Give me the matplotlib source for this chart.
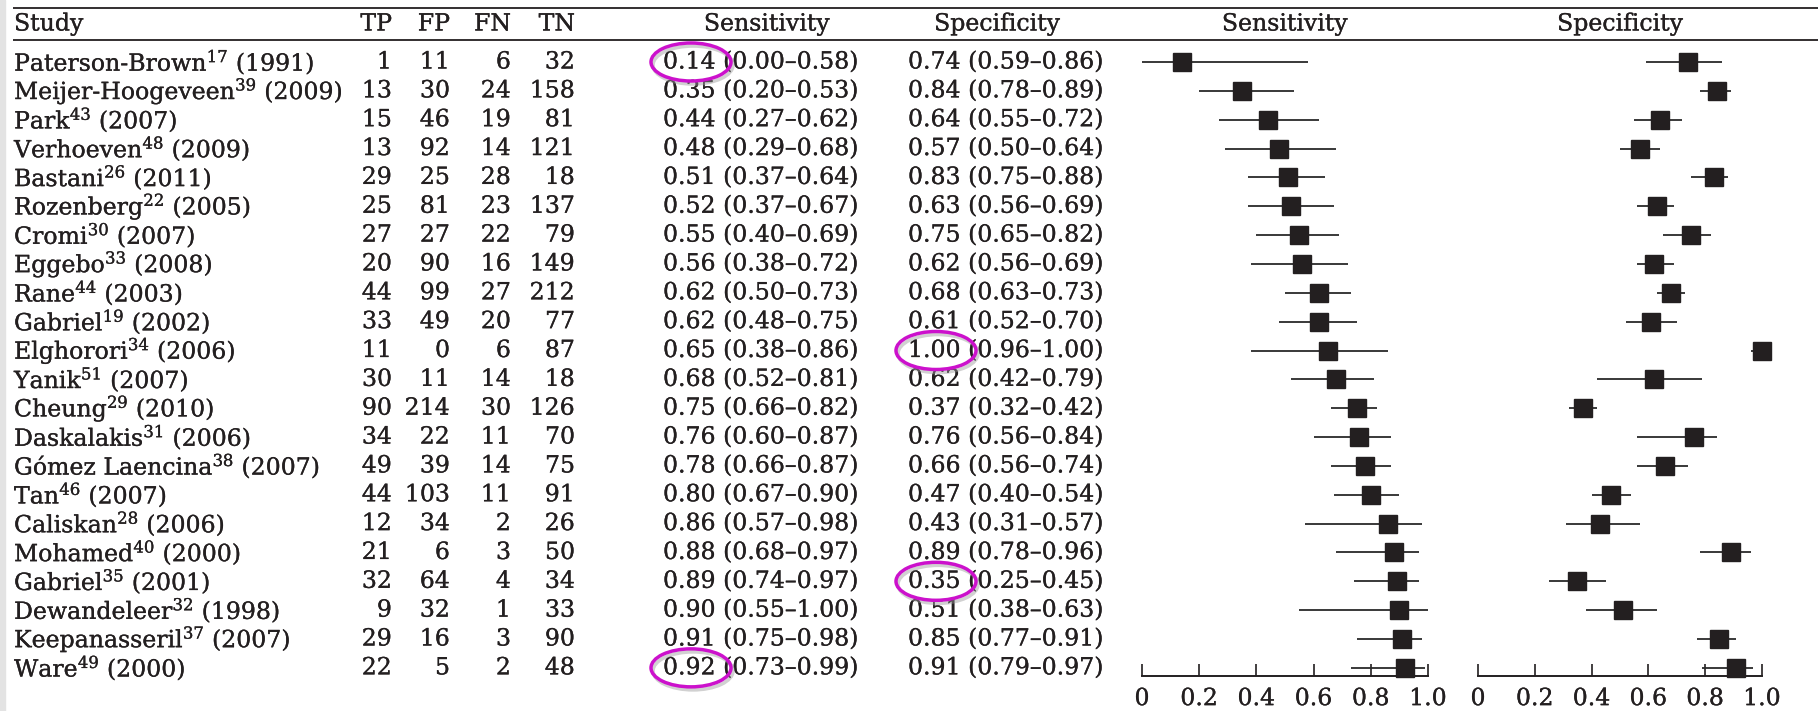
import matplotlib
matplotlib.use('Agg')
import matplotlib.pyplot as plt
from matplotlib.patches import Ellipse, Rectangle
import matplotlib.patheffects as pe

plt.rcParams['font.family'] = ['DejaVu Serif']
plt.rcParams['mathtext.fontset'] = 'dejavuserif'

# ==== DATA ====
studies = ['Paterson-Brown', 'Meijer-Hoogeveen', 'Park', 'Verhoeven', 'Bastani',
           'Rozenberg', 'Cromi', 'Eggebo', 'Rane', 'Gabriel', 'Elghorori', 'Yanik',
           'Cheung', 'Daskalakis', 'Gómez Laencina', 'Tan', 'Caliskan', 'Mohamed',
           'Gabriel', 'Dewandeleer', 'Keepanasseril', 'Ware']
refs = [17, 39, 43, 48, 26, 22, 30, 33, 44, 19, 34, 51, 29, 31, 38, 46, 28, 40, 35, 32, 37, 49]
years = [1991, 2009, 2007, 2009, 2011, 2005, 2007, 2008, 2003, 2002, 2006, 2007,
         2010, 2006, 2007, 2007, 2006, 2000, 2001, 1998, 2007, 2000]

tp = [1, 13, 15, 13, 29, 25, 27, 20, 44, 33, 11, 30, 90, 34, 49, 44, 12, 21, 32, 9, 29, 22]
fp = [11, 30, 46, 92, 25, 81, 27, 90, 99, 49, 0, 11, 214, 22, 39, 103, 34, 6, 64, 32, 16, 5]
fn = [6, 24, 19, 14, 28, 23, 22, 16, 27, 20, 6, 14, 30, 11, 14, 11, 2, 3, 4, 1, 3, 2]
tn = [32, 158, 81, 121, 18, 137, 79, 149, 212, 77, 87, 18, 126, 70, 75, 91, 26, 50, 34, 33, 90, 48]

sens = [0.14, 0.35, 0.44, 0.48, 0.51, 0.52, 0.55, 0.56, 0.62, 0.62, 0.65, 0.68,
        0.75, 0.76, 0.78, 0.80, 0.86, 0.88, 0.89, 0.90, 0.91, 0.92]
sens_lo = [0.00, 0.20, 0.27, 0.29, 0.37, 0.37, 0.40, 0.38, 0.50, 0.48, 0.38, 0.52,
           0.66, 0.60, 0.66, 0.67, 0.57, 0.68, 0.74, 0.55, 0.75, 0.73]
sens_hi = [0.58, 0.53, 0.62, 0.68, 0.64, 0.67, 0.69, 0.72, 0.73, 0.75, 0.86, 0.81,
           0.82, 0.87, 0.87, 0.90, 0.98, 0.97, 0.97, 1.00, 0.98, 0.99]

spec = [0.74, 0.84, 0.64, 0.57, 0.83, 0.63, 0.75, 0.62, 0.68, 0.61, 1.00, 0.62,
        0.37, 0.76, 0.66, 0.47, 0.43, 0.89, 0.35, 0.51, 0.85, 0.91]
spec_lo = [0.59, 0.78, 0.55, 0.50, 0.75, 0.56, 0.65, 0.56, 0.63, 0.52, 0.96, 0.42,
           0.32, 0.56, 0.56, 0.40, 0.31, 0.78, 0.25, 0.38, 0.77, 0.79]
spec_hi = [0.86, 0.89, 0.72, 0.64, 0.88, 0.69, 0.82, 0.69, 0.73, 0.70, 1.00, 0.79,
           0.42, 0.84, 0.74, 0.54, 0.57, 0.96, 0.45, 0.63, 0.91, 0.97]

ticks = [0, 0.2, 0.4, 0.6, 0.8, 1.0]
tick_labels = ['0', '0.2', '0.4', '0.6', '0.8', '1.0']

# circled estimates: (row, column)
circled = [(0, 'sens'), (10, 'spec'), (18, 'spec'), (21, 'sens')]

# ==== LAYOUT (pixels) ====
W, H = 1818, 711
y0, dy = 62, 28.85         # first row centre, row pitch
ink = '#231f20'
fs = 17
heavy = [pe.withStroke(linewidth=0.2, foreground=ink)]

def ry(px):
    return (px - y0) / dy

def put(x, y, s, ha='left'):
    tab.text(x, y, s, ha=ha, va='center', fontsize=fs, color=ink, path_effects=heavy)

fig = plt.figure(figsize=(W / 100, H / 100), dpi=100)
fig.patch.set_facecolor('white')

tab = fig.add_axes([0, 0, 1, 1])
tab.set_xlim(0, W)
tab.set_ylim(ry(H), ry(0))
tab.axis('off')

# thin grey strip along the left edge
fig.patches.append(Rectangle((0, 0), 5 / W, 1, transform=fig.transFigure,
                             color='#e3e3e3', zorder=0))

# header rules
for yl in (8, 40):
    tab.plot([13, W], [ry(yl), ry(yl)], color=ink, lw=1.3, solid_capstyle='butt')

x_study = 14
x_tp, x_fp, x_fn, x_tn = 392, 450, 511, 575
x_sens, x_spec = 663, 908
hy = ry(24)

put(x_study, hy, 'Study')
for x, lab in [(x_tp, 'TP'), (x_fp, 'FP'), (x_fn, 'FN'), (x_tn, 'TN')]:
    put(x, hy, lab, ha='right')
put(767, hy, 'Sensitivity', ha='center')
put(997, hy, 'Specificity', ha='center')
put(1285, hy, 'Sensitivity', ha='center')
put(1620, hy, 'Specificity', ha='center')

for i in range(len(studies)):
    label = studies[i] + r'$^{\mathrm{' + str(refs[i]) + '}}$ (' + str(years[i]) + ')'
    put(x_study, i, label)
    put(x_tp, i, str(tp[i]), ha='right')
    put(x_fp, i, str(fp[i]), ha='right')
    put(x_fn, i, str(fn[i]), ha='right')
    put(x_tn, i, str(tn[i]), ha='right')
    put(x_sens, i, '%.2f (%.2f\u2013%.2f)' % (sens[i], sens_lo[i], sens_hi[i]))
    put(x_spec, i, '%.2f (%.2f\u2013%.2f)' % (spec[i], spec_lo[i], spec_hi[i]))

# magenta rings round the highlighted estimates, with a soft grey shadow
for row, col in circled:
    cx = (x_sens if col == 'sens' else x_spec) + 28
    shadow = Ellipse((cx + 2, row + 3 / dy), width=80, height=38 / dy, fill=False,
                     edgecolor='#999999', lw=2.6, alpha=0.45, zorder=4)
    ring = Ellipse((cx, row), width=80, height=38 / dy, fill=False,
                   edgecolor='#cc11cc', lw=2.5, zorder=5)
    tab.add_patch(shadow)
    tab.add_patch(ring)

# ==== FOREST PANELS ====
top_px, axis_px = 40, 676

def forest(x0_px, x1_px, est, lo, hi):
    ax = fig.add_axes([x0_px / W, 1 - axis_px / H, (x1_px - x0_px) / W, (axis_px - top_px) / H])
    ax.set_facecolor('none')
    rows = list(range(len(est)))
    ax.hlines(rows, lo, hi, color='#2a2a2a', lw=1.3, clip_on=False)
    ax.plot(est, rows, linestyle='none', marker='s', markersize=12.5,
            color=ink, clip_on=False)
    ax.set_xlim(0, 1)
    ax.set_ylim(ry(axis_px), ry(top_px))
    for s in ('top', 'right', 'left'):
        ax.spines[s].set_visible(False)
    ax.spines['bottom'].set_color(ink)
    ax.spines['bottom'].set_linewidth(1.4)
    ax.set_yticks([])
    ax.set_xticks(ticks)
    ax.set_xticklabels(tick_labels)
    ax.tick_params(axis='x', direction='in', length=8.5, width=1.2, color=ink,
                   labelsize=fs, labelcolor=ink, pad=8)
    for t in ax.get_xticklabels():
        t.set_path_effects(heavy)
    return ax

ax_sens = forest(1142, 1428, sens, sens_lo, sens_hi)
ax_spec = forest(1478, 1762, spec, spec_lo, spec_hi)

fig.savefig('out.png', dpi=100)
